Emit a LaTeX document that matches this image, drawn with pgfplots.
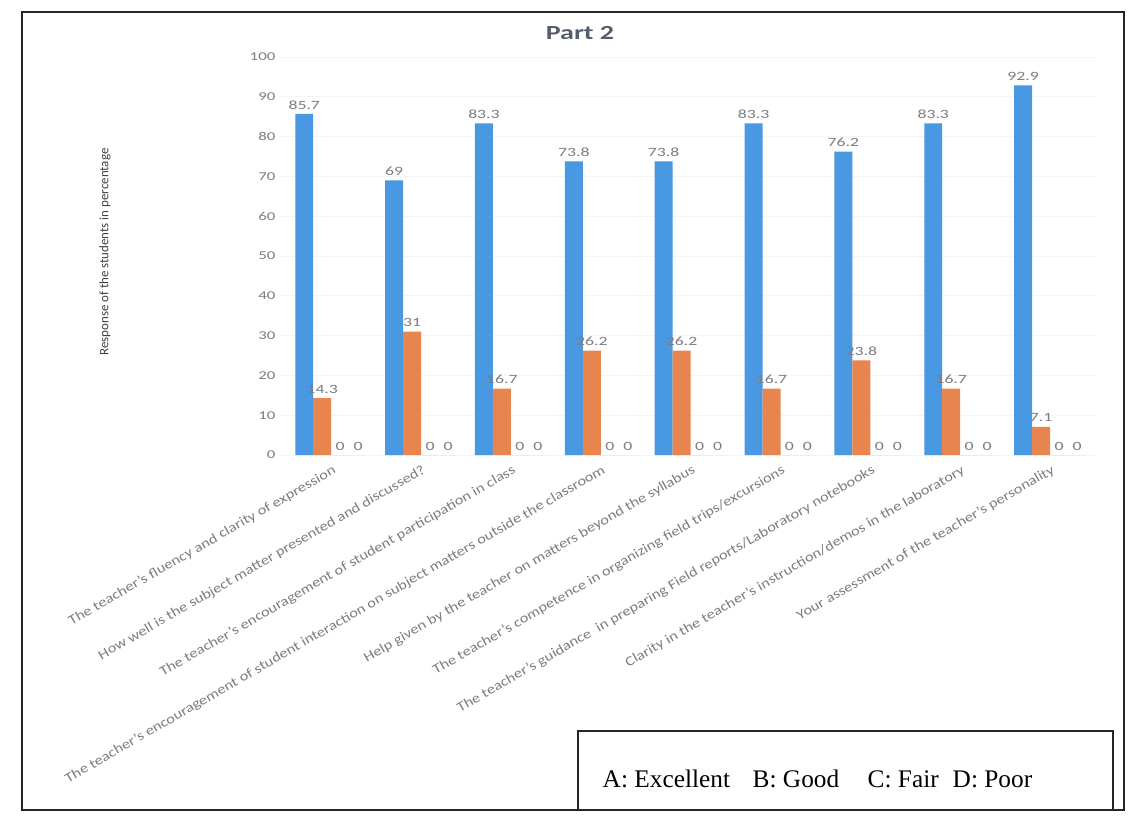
\documentclass[border=0pt]{standalone}
\usepackage{fontspec}
\setmainfont{Carlito}
\newfontfamily\widefont[FakeStretch=1.4]{Carlito}
\newfontfamily\labfont[FakeStretch=1.2]{Carlito}
\newfontfamily\legfont{Liberation Serif}
\usepackage{pgfplots}
\pgfplotsset{compat=1.18}
\definecolor{barA}{RGB}{72,152,226}
\definecolor{barB}{RGB}{232,132,78}
\definecolor{barC}{RGB}{165,165,165}
\definecolor{barD}{RGB}{255,192,0}
\definecolor{lab}{RGB}{125,125,130}
\definecolor{ttl}{RGB}{85,92,110}
\begin{document}
\begin{tikzpicture}[x=0.75pt,y=-0.75pt]
\fill[white] (0,0) rectangle (1131,820);
\draw[line width=1.1pt, black!85] (22,12) rectangle (1124,810);
\node[font=\widefont\bfseries\fontsize{15}{18}\selectfont, text=ttl] at (580,33) {Part 2};
\node[rotate=90, font=\fontsize{9.7}{11}\selectfont, text=black!75] at (105,252) {Response of the students in percentage};
\begin{axis}[
  at={(210pt,-341.25pt)}, anchor=south west,
  scale only axis, width=611.25pt, height=298.5pt,
  xmin=-0.57, xmax=8.5, ymin=0, ymax=100,
  ybar=0pt, bar width=0.2,
  axis line style={draw=none},
  major tick length=0pt,
  ymajorgrids, grid style={gray!8, line width=0.6pt},
  ytick={0,10,...,100},
  xtick={0,...,8},
  xticklabels={
    The teacher’s fluency and clarity of expression,
    How well is the subject matter presented and discussed?,
    The teacher’s encouragement of student participation in class,
    The teacher’s encouragement of student interaction on subject matters outside the classroom,
    Help given by the teacher on matters beyond the syllabus,
    The teacher’s competence in organizing field trips/excursions,
    The teacher’s guidance\ \ in preparing Field reports/Laboratory notebooks,
    Clarity in the teacher’s instruction/demos in the laboratory,
    Your assessment of the teacher’s personality},
  x tick label style={rotate=30, anchor=north east, font=\labfont\fontsize{10.2}{12}\selectfont, text=lab, inner sep=1pt, yshift=-5pt, xshift=-2pt},
  y tick label style={font=\widefont\fontsize{9}{11}\selectfont, text=lab},
  /pgf/number format/assume math mode=true,
  nodes near coords,
  every node near coord/.append style={font=\widefont\fontsize{9.5}{11}\selectfont, text=lab},
]
\addplot[fill=barA, draw=none] coordinates {(0,85.7) (1,69) (2,83.3) (3,73.8) (4,73.8) (5,83.3) (6,76.2) (7,83.3) (8,92.9)};
\addplot[fill=barB, draw=none] coordinates {(0,14.3) (1,31) (2,16.7) (3,26.2) (4,26.2) (5,16.7) (6,23.8) (7,16.7) (8,7.1)};
\addplot[fill=barC, draw=none] coordinates {(0,0) (1,0) (2,0) (3,0) (4,0) (5,0) (6,0) (7,0) (8,0)};
\addplot[fill=barD, draw=none] coordinates {(0,0) (1,0) (2,0) (3,0) (4,0) (5,0) (6,0) (7,0) (8,0)};
\end{axis}
\draw[line width=0.9pt, black!85] (578,731) rectangle (1113,810);
\node[anchor=base west, font=\legfont\fontsize{19}{22}\selectfont] at (598,787) {A: Excellent};
\node[anchor=base west, font=\legfont\fontsize{19}{22}\selectfont] at (748,787) {B: Good};
\node[anchor=base west, font=\legfont\fontsize{19}{22}\selectfont] at (863,787) {C: Fair};
\node[anchor=base west, font=\legfont\fontsize{19}{22}\selectfont] at (948,787) {D: Poor};
\end{tikzpicture}
\end{document}
